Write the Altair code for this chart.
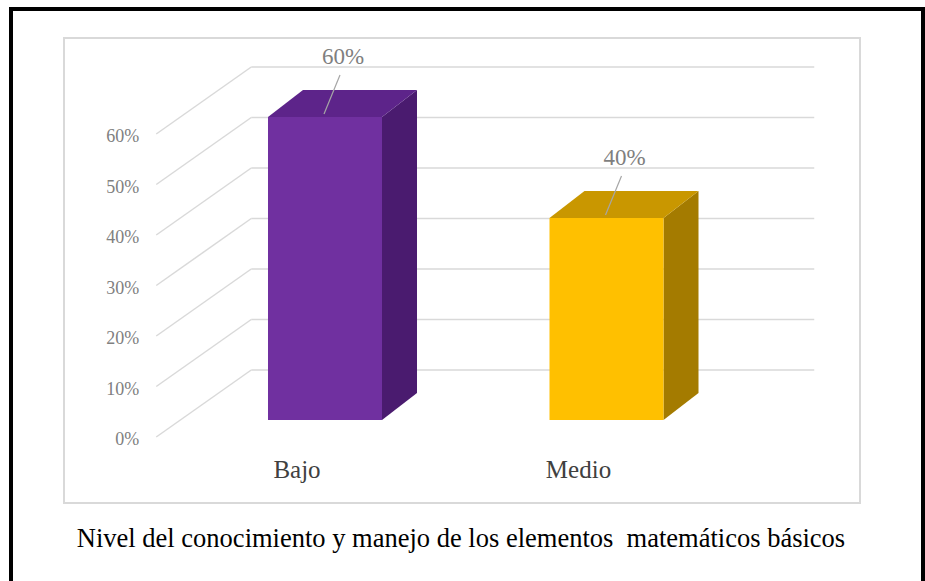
import altair as alt
import pandas as pd

# ---------------- data ----------------
categories = ["Bajo", "Medio"]
values = [60, 40]
value_labels = ["60%", "40%"]
tick_values = [0, 10, 20, 30, 40, 50, 60]
tick_labels = ["0%", "10%", "20%", "30%", "40%", "50%", "60%"]
caption = "Nivel del conocimiento y manejo de los elementos\u00a0 matemáticos básicos"

# ---------------- style ----------------
front_colors = ["#7030a0", "#ffc000"]
top_colors = ["#5d248a", "#c99700"]
side_colors = ["#4a1b6f", "#a47b00"]
GRID = "#d9d9d9"
SERIF = "Times New Roman, Liberation Serif, serif"

# ---------------- layout (pixels) ----------------
W, H = 796, 465            # view = inner chart-area box
PAD_L, PAD_T = 64, 38
STEP = 281.5               # px per category step
PCT = 5.05                 # px per percentage point
X0 = 261                   # view px of first category centre (bar plane)
Y0 = 382                   # view px of 0 % (bar plane)


def ux(px):
    return px / STEP


def uy(px):                # screen-down px -> value units
    return -px / PCT


x_dom = [-X0 / STEP, (W - X0) / STEP]
y_dom = [-(H - Y0) / PCT, Y0 / PCT]

HALF = 0.2025                       # half bar width (category units)
BAR_D = (ux(35), uy(-27))           # bar depth
WALL_D = (ux(67), uy(-50))          # back wall offset
FRONT_D = (ux(-28), uy(17))         # front floor edge offset
LEFT, RIGHT = -0.5, len(categories) - 0.5


def X(f):
    return alt.X(f, type="quantitative", axis=None,
                 scale=alt.Scale(domain=x_dom, nice=False, zero=False))


def Y(f):
    return alt.Y(f, type="quantitative", axis=None,
                 scale=alt.Scale(domain=y_dom, nice=False, zero=False))


# ---------------- tables ----------------
grid_rows, slant_rows, tick_rows = [], [], []
for t, lab in zip(tick_values, tick_labels):
    grid_rows.append({"x": LEFT + WALL_D[0], "x2": RIGHT + WALL_D[0],
                      "y": t + WALL_D[1], "y2": t + WALL_D[1]})
    slant_rows.append({"x": LEFT + FRONT_D[0], "x2": LEFT + WALL_D[0],
                       "y": t + FRONT_D[1], "y2": t + WALL_D[1]})
    tick_rows.append({"x": LEFT + FRONT_D[0], "y": t + FRONT_D[1], "t": lab})

front_rows, top_rows, side_rows, cat_rows, lab_rows, lead_rows = [], [], [], [], [], []
for i, (c, v, vl) in enumerate(zip(categories, values, value_labels)):
    front_rows.append({"x": i - HALF, "x2": i + HALF, "y": 0, "y2": v,
                       "fill": front_colors[i]})
    top_rows += [
        {"y": v, "x": i - HALF, "x2": i + HALF, "fill": top_colors[i]},
        {"y": v + BAR_D[1], "x": i - HALF + BAR_D[0], "x2": i + HALF + BAR_D[0],
         "fill": top_colors[i]},
    ]
    side_rows += [
        {"x": i + HALF, "y": 0, "y2": v, "fill": side_colors[i]},
        {"x": i + HALF + BAR_D[0], "y": BAR_D[1], "y2": v + BAR_D[1],
         "fill": side_colors[i]},
    ]
    cat_rows.append({"x": i + FRONT_D[0], "y": FRONT_D[1], "t": c})
    lab_rows.append({"x": i + ux(18), "y": v + uy(-60), "t": vl})
    lead_rows.append({"x": i + ux(15), "y": v + uy(-42),
                      "x2": i + ux(-1), "y2": v + uy(-3)})

grid = alt.Chart(pd.DataFrame(grid_rows)).mark_rule(
    color=GRID, strokeWidth=1.5).encode(x=X("x"), x2="x2", y=Y("y"), y2="y2")
slant = alt.Chart(pd.DataFrame(slant_rows)).mark_rule(
    color=GRID, strokeWidth=1.5).encode(x=X("x"), x2="x2", y=Y("y"), y2="y2")
ticks = alt.Chart(pd.DataFrame(tick_rows)).mark_text(
    align="right", baseline="middle", dx=-17, dy=3, font=SERIF, fontSize=18,
    color="#808080").encode(x=X("x"), y=Y("y"), text="t:N")

side = alt.Chart(pd.DataFrame(side_rows)).mark_area(
    orient="vertical", opacity=1).encode(
    x=X("x"), y=Y("y"), y2="y2", fill=alt.Fill("fill:N", scale=None))
top = alt.Chart(pd.DataFrame(top_rows)).mark_area(
    orient="horizontal", opacity=1).encode(
    y=Y("y"), x=X("x"), x2="x2", fill=alt.Fill("fill:N", scale=None))
front = alt.Chart(pd.DataFrame(front_rows)).mark_rect(opacity=1).encode(
    x=X("x"), x2="x2", y=Y("y"), y2="y2", fill=alt.Fill("fill:N", scale=None))

leaders = alt.Chart(pd.DataFrame(lead_rows)).mark_rule(
    color="#a6a6a6", strokeWidth=1.2).encode(x=X("x"), x2="x2", y=Y("y"), y2="y2")
vlabels = alt.Chart(pd.DataFrame(lab_rows)).mark_text(
    align="center", baseline="middle", font=SERIF, fontSize=23,
    color="#7f7f7f").encode(x=X("x"), y=Y("y"), text="t:N")
cats = alt.Chart(pd.DataFrame(cat_rows)).mark_text(
    align="center", baseline="middle", dy=33, font=SERIF, fontSize=25,
    color="#404040").encode(x=X("x"), y=Y("y"), text="t:N")

frame = alt.Chart(pd.DataFrame({"k": [0]})).mark_rect(
    fillOpacity=0, stroke="black", strokeWidth=4).encode(
    x=alt.value(11 - PAD_L), x2=alt.value(923 - PAD_L),
    y=alt.value(9 - PAD_T), y2=alt.value(586 - PAD_T))
cap = alt.Chart(pd.DataFrame({"t": [caption]})).mark_text(
    align="center", baseline="alphabetic", font=SERIF, fontSize=26.5,
    color="black").encode(x=alt.value(W / 2 - 1), y=alt.value(547 - PAD_T), text="t:N")

chart = alt.layer(
    grid, slant, ticks, side, top, front, leaders, vlabels, cats, frame, cap
).properties(
    width=W, height=H,
    autosize=alt.AutoSizeParams(type="none"),
    padding={"left": PAD_L, "top": PAD_T, "right": 925 - PAD_L - W,
             "bottom": 581 - PAD_T - H},
    background="white",
).configure_view(stroke=GRID, strokeWidth=2)

chart.save("out.html", embed_options={"renderer": "svg", "actions": False})
